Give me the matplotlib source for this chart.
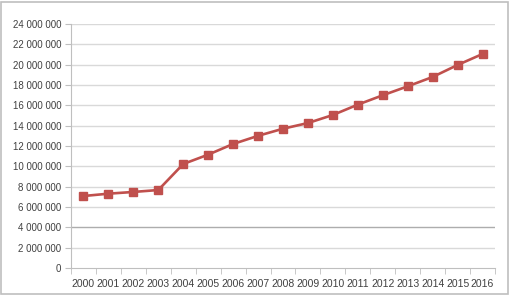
import matplotlib
matplotlib.use("Agg")
import matplotlib.pyplot as plt
from matplotlib.patches import Rectangle
from matplotlib.ticker import FuncFormatter, MultipleLocator

###############################################################################
# Datos
###############################################################################
anios = ["2000", "2001", "2002", "2003", "2004", "2005", "2006", "2007", "2008",
         "2009", "2010", "2011", "2012", "2013", "2014", "2015", "2016"]
valores = [7080000, 7310000, 7480000, 7670000, 10230000, 11150000, 12200000,
           13000000, 13700000, 14260000, 15050000, 16070000, 16990000,
           17870000, 18790000, 19970000, 21050000]

rojo = "#C0504D"
gris = "#D9D9D9"

plt.rcParams["font.family"] = ["Liberation Sans", "DejaVu Sans"]

fig = plt.figure(figsize=(5.12, 2.95), dpi=100)
ax = fig.add_axes([71 / 512, 1 - 268 / 295, (495 - 71) / 512, (268 - 24) / 295])

x = list(range(len(anios)))
ax.plot(x, valores, color=rojo, linewidth=1.9, marker="s", markersize=6,
        markerfacecolor=rojo, markeredgecolor=rojo, zorder=3)

ax.set_xlim(-0.5, len(anios) - 0.5)
ax.set_ylim(0, 24000000)
ax.yaxis.set_major_locator(MultipleLocator(2000000))
ax.yaxis.set_major_formatter(FuncFormatter(lambda v, p: f"{int(v):,}".replace(",", " ")))

# grilla
for v in range(2000000, 24000001, 2000000):
    ax.axhline(v, color="#ADADAD" if v == 4000000 else gris, linewidth=1, zorder=1)

ax.set_xticks(x)
ax.set_xticklabels(anios)
ax.set_xticks([i - 0.5 for i in range(len(anios) + 1)], minor=True)
ax.tick_params(axis="x", which="major", length=0, labelsize=7.5, colors="#404040", pad=8)
ax.tick_params(axis="x", which="minor", length=4, color="#BFBFBF")
ax.tick_params(axis="y", length=4, color="#BFBFBF", labelsize=7, labelcolor="#404040", pad=3)

for s in ["top", "right"]:
    ax.spines[s].set_visible(False)
ax.spines["left"].set_color("#BFBFBF")
ax.spines["bottom"].set_color("#BFBFBF")

# marco exterior
fig.patches.append(Rectangle((0.001, 0.002), 507 / 512, 1 - 2.5 / 295, transform=fig.transFigure,
                             fill=False, edgecolor="#BFBFBF", linewidth=1.2))

fig.savefig("out.png", dpi=100)
